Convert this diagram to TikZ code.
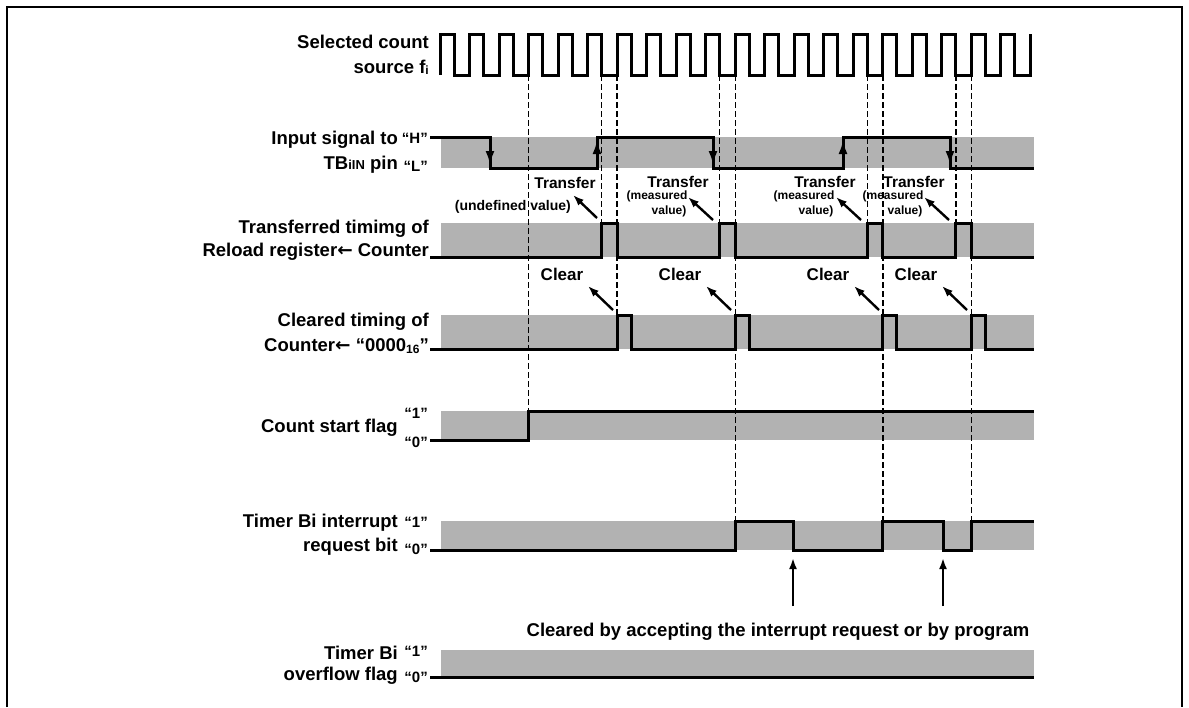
\documentclass[tikz,border=0pt]{standalone}
\usepackage{fontspec}
\setmainfont{Liberation Sans}
\newfontfamily\arrowfont{DejaVu Sans}
\usetikzlibrary{arrows.meta}
\tikzset{
  lab/.style={font=\fontsize{18.5}{21}\selectfont\bfseries, inner sep=0pt, anchor=east},
  lvl/.style={font=\fontsize{15}{16}\selectfont\bfseries, inner sep=0pt, anchor=east},
  note/.style={font=\fontsize{15.5}{17}\selectfont\bfseries, inner sep=0pt},
  small/.style={font=\fontsize{12}{13}\selectfont\bfseries, inner sep=0pt},
  clr/.style={font=\fontsize{17}{18}\selectfont\bfseries, inner sep=0pt},
  sig/.style={line width=3pt, line join=miter, line cap=butt},
  band/.style={fill=black!30},
  dsh/.style={line width=1.4pt, dash pattern=on 6pt off 3pt},
  arr/.style={-{Latex[length=11pt,width=8pt]}, line width=2.4pt},
  varr/.style={-{Latex[length=14pt,width=9pt]}, line width=2.6pt},
  frame/.style={line width=1.6pt}
}
\newcommand{\larr}{{\arrowfont\bfseries ←}}
\begin{document}
\begin{tikzpicture}[x=1pt,y=-1pt]
\useasboundingbox (0,0) rectangle (1189,707);
% frame
\draw[frame] (7,707) -- (7,7) -- (1182,7) -- (1182,707);

% ---------- shaded bands ----------
\fill[band] (441,137) rectangle (1034,168);
\fill[band] (441,223) rectangle (1034,257);
\fill[band] (441,315) rectangle (1034,349);
\fill[band] (441,411) rectangle (1034,440);
\fill[band] (441,521) rectangle (1034,550);
\fill[band] (441,650) rectangle (1034,677);

% ---------- dashed timing lines ----------
\coordinate (c0) at (528.56,75);
\coordinate (t1) at (601.6,75);  \coordinate (k1) at (617.12,75);
\coordinate (t2) at (719.68,75); \coordinate (k2) at (735.2,75);
\coordinate (t3) at (867.28,75); \coordinate (k3) at (882.8,75);
\coordinate (t4) at (955.84,75); \coordinate (k4) at (971.36,75);
\draw[dsh] (c0) -- (c0 |- 0,411);
\foreach \t in {t1,t2,t3,t4} { \draw[dsh] (\t) -- (\t |- 0,223); }
\draw[dsh] (k1) -- (k1 |- 0,315);
\foreach \k in {k2,k3,k4} { \draw[dsh] (\k) -- (\k |- 0,521); }

% ---------- clock ----------
\draw[sig] (440,75) \foreach \i in {0,...,19} { -- ++(0,-41) -- ++(14,0) -- ++(0,41) -- ++(15.52,0) } -- ++(0,-41);
\node[lab] (clk1) at (429,42) {Selected count};
\node[lab] (clk2) at (429,67) {source f\raisebox{-1pt}{\fontsize{12}{12}\selectfont i}};

% ---------- input signal ----------
\draw[sig] (430,137) -- (490,137) -- (490,168) -- (597,168) -- (597,137) -- (713,137) -- (713,168)
  -- (843,168) -- (843,137) -- (950,137) -- (950,168) -- (1034,168);
\draw[varr] (490,140) -- (490,165);
\draw[varr] (597,165) -- (597,140);
\draw[varr] (713,140) -- (713,165);
\draw[varr] (843,165) -- (843,140);
\draw[varr] (950,140) -- (950,165);
\node[lab] (in1) at (398,140) {Input signal to};
\node[lab] (in2) at (398,165) {TB{\fontsize{13}{13}\selectfont iIN} pin};
\node[lvl] (inH) at (428,138) {“H”};
\node[lvl] (inL) at (428,166) {“L”};

% ---------- transfer annotations ----------
\node[note] (tr1) at (565,183) {Transfer};
\node[font=\fontsize{14}{15}\selectfont\bfseries, inner sep=0pt, anchor=east] (tr1b) at (571,207) {(undefined value)};
\node[note] (tr2) at (678,182) {Transfer};
\node[small] (tr2b) at (657,196) {(measured};
\node[small] (tr2c) at (669,211) {value)};
\node[note] (tr3) at (825,182) {Transfer};
\node[small] (tr3b) at (804,196) {(measured};
\node[small] (tr3c) at (816,211) {value)};
\node[note] (tr4) at (914,182) {Transfer};
\node[small] (tr4b) at (893,196) {(measured};
\node[small] (tr4c) at (905,211) {value)};
\draw[arr] (597,218) -- (573,195);
\draw[arr] (713,220) -- (688,197);
\draw[arr] (861,220) -- (836,197);
\draw[arr] (949,220) -- (924,197);

% ---------- transfer row ----------
\draw[sig] (430,257) -- (601.6,257) -- (601.6,223) -- (617.12,223) -- (617.12,257)
  -- (719.68,257) -- (719.68,223) -- (735.2,223) -- (735.2,257)
  -- (867.28,257) -- (867.28,223) -- (882.8,223) -- (882.8,257)
  -- (955.84,257) -- (955.84,223) -- (971.36,223) -- (971.36,257) -- (1034,257);
\node[lab] (tf1) at (429,229) {Transferred timimg of};
\node[lab] (tf2) at (429,252) {Reload register\larr\ Counter};

% ---------- clear annotations ----------
\node[clr] (cl1) at (562,274) {Clear};
\node[clr] (cl2) at (680,274) {Clear};
\node[clr] (cl3) at (828,274) {Clear};
\node[clr] (cl4) at (916,274) {Clear};
\draw[arr] (613,310) -- (588,286);
\draw[arr] (731,310) -- (706,286);
\draw[arr] (879,310) -- (854,286);
\draw[arr] (967,310) -- (942,286);

% ---------- cleared row ----------
\draw[sig] (430,349) -- (617.12,349) -- (617.12,315) -- (631.12,315) -- (631.12,349)
  -- (735.2,349) -- (735.2,315) -- (749.2,315) -- (749.2,349)
  -- (882.8,349) -- (882.8,315) -- (896.8,315) -- (896.8,349)
  -- (971.36,349) -- (971.36,315) -- (985.36,315) -- (985.36,349) -- (1034,349);
\node[lab] (cr1) at (429,322) {Cleared timing of};
\node[lab] (cr2) at (429,346) {Counter\larr\ “0000\raisebox{-2pt}{\fontsize{12}{12}\selectfont 16}”};

% ---------- count start flag ----------
\draw[sig] (430,440) -- (528.56,440) -- (528.56,411) -- (1034,411);
\node[lab] (cs) at (398,428) {Count start flag};
\node[lvl] (cs1) at (428,413) {“1”};
\node[lvl] (cs0) at (428,442) {“0”};

% ---------- interrupt request ----------
\draw[sig] (430,550) -- (735.2,550) -- (735.2,521) -- (793,521) -- (793,550)
  -- (882.8,550) -- (882.8,521) -- (943,521) -- (943,550)
  -- (971.36,550) -- (971.36,521) -- (1034,521);
\node[lab] (ir1) at (398,523) {Timer Bi interrupt};
\node[lab] (ir2) at (398,547) {request bit};
\node[lvl] (ir1v) at (428,522) {“1”};
\node[lvl] (ir0v) at (428,549) {“0”};
\coordinate (u1) at (793,606); \coordinate (u2) at (943,606);
\draw[arr] (u1) -- (793,558);
\draw[arr] (u2) -- (943,558);
\node[lab, anchor=center] (note) at (778,632) {Cleared by accepting the interrupt request or by program};

% ---------- overflow flag ----------
\draw[sig] (430,677) -- (1034,677);
\node[lab] (of1) at (398,653) {Timer Bi};
\node[lab] (of2) at (398,676) {overflow flag};
\node[lvl] (of1v) at (428,651) {“1”};
\node[lvl] (of0v) at (428,677) {“0”};
\end{tikzpicture}
\end{document}
